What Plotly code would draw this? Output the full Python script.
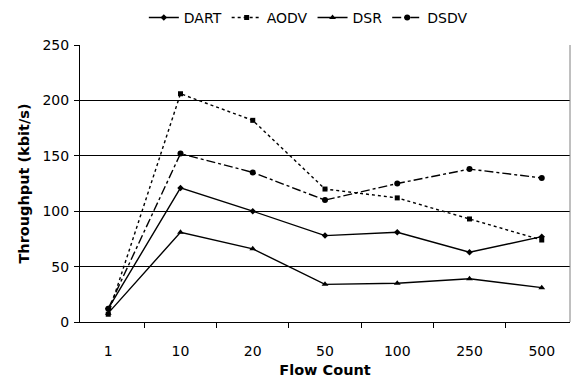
import plotly.graph_objects as go

categories = ["1", "10", "20", "50", "100", "250", "500"]
dart = [12, 121, 100, 78, 81, 63, 77]
aodv = [7, 206, 182, 120, 112, 93, 74]
dsr = [8, 81, 66, 34, 35, 39, 31]
dsdv = [12, 152, 135, 110, 125, 138, 130]

font = "DejaVu Sans, Verdana, sans-serif"
fig = go.Figure()
series = [
    ("DART", dart, "solid", "diamond", 5),
    ("AODV", aodv, "dot", "square", 5),
    ("DSR", dsr, "solid", "triangle-up", 6),
    ("DSDV", dsdv, "dashdot", "circle", 6),
]
for name, vals, dash, sym, ms in series:
    fig.add_trace(go.Scatter(
        x=categories, y=vals, name=name, mode="lines+markers",
        line=dict(color="black", width=1.4, dash=dash),
        marker=dict(symbol=sym, size=ms, color="black"),
    ))

fig.update_layout(
    width=571, height=381,
    margin=dict(l=80, r=1, t=45, b=59),
    paper_bgcolor="white", plot_bgcolor="white",
    font=dict(family=font, size=14, color="black"),
    showlegend=True,
    legend=dict(orientation="h", x=0.54, xanchor="center", xref="container",
                y=0.995, yanchor="top", yref="container",
                font=dict(size=14), itemwidth=30, tracegroupgap=0,
                bgcolor="rgba(0,0,0,0)"),
    xaxis=dict(type="category", showgrid=False, showline=True, linecolor="black",
               linewidth=1, ticks="outside", ticklen=5, tickcolor="black",
               tickson="boundaries", ticklabelstandoff=16,
               title=dict(text="<b>Flow Count</b>", font=dict(size=14.5), standoff=7)),
    yaxis=dict(range=[0, 250], dtick=50, showgrid=True, gridcolor="black",
               gridwidth=1, showline=True, linecolor="black", linewidth=1,
               ticks="outside", ticklen=5, tickcolor="black", zeroline=False,
               ticklabelstandoff=2,
               title=dict(text="<b>Throughput (kbit/s)</b>", font=dict(size=14.5), standoff=9)),
)
fig.add_shape(type="line", xref="paper", yref="paper", x0=1, x1=1, y0=0, y1=1,
              line=dict(color="gray", width=1))
fig.write_html("out.html")
